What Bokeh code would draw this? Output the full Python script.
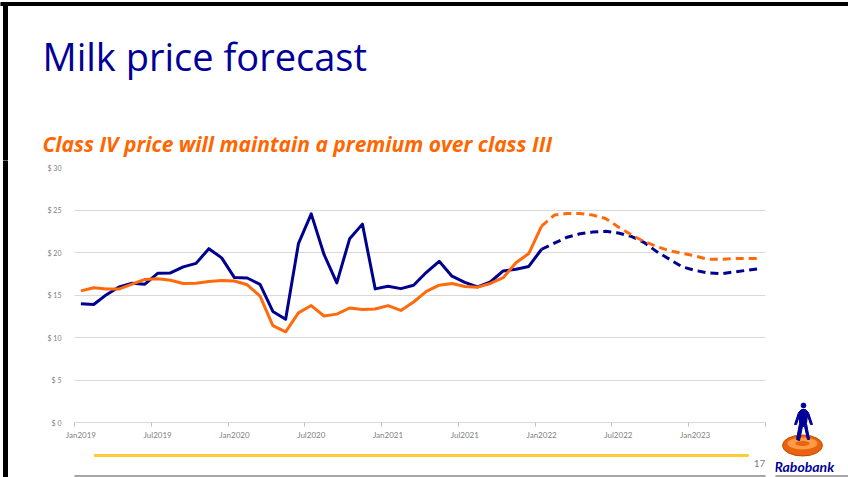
import numpy as np
from bokeh.plotting import figure
from bokeh.layouts import column, row
from bokeh.models import Range1d, FixedTicker
from bokeh.core.properties import value
from bokeh.embed import file_html
from bokeh.resources import INLINE

# ---------------- data ----------------
x_tick_labels = ["Jan2019", "Jul2019", "Jan2020", "Jul2020", "Jan2021",
                 "Jul2021", "Jan2022", "Jul2022", "Jan2023"]
y_tick_values = [0, 5, 10, 15, 20, 25, 30]

# monthly actuals Jan 2019 - Jan 2022 ($/cwt)
class_iii_actual = [13.96, 13.89, 15.04, 15.96, 16.38, 16.27, 17.55, 17.60, 18.31, 18.72, 20.45, 19.37,
                    17.05, 17.00, 16.25, 13.07, 12.14, 21.04, 24.54, 19.77, 16.43, 21.61, 23.34, 15.72,
                    16.04, 15.75, 16.15, 17.67, 18.96, 17.21, 16.49, 15.95, 16.53, 17.83, 18.03, 18.36,
                    20.38]
class_iv_actual = [15.48, 15.86, 15.71, 15.72, 16.29, 16.83, 16.90, 16.74, 16.35, 16.39, 16.60, 16.70,
                   16.65, 16.20, 14.87, 11.40, 10.67, 12.90, 13.76, 12.53, 12.75, 13.47, 13.30, 13.36,
                   13.75, 13.19, 14.18, 15.42, 16.16, 16.35, 16.00, 15.92, 16.36, 17.04, 18.79, 19.88,
                   23.09]
# forecasts Feb 2022 - Jun 2023
class_iii_forecast = [21.1, 21.8, 22.2, 22.4, 22.5, 22.3, 21.9, 21.2, 20.1, 19.2, 18.3, 17.9,
                      17.6, 17.5, 17.7, 17.9, 18.1]
class_iv_forecast = [24.4, 24.6, 24.6, 24.4, 24.0, 23.0, 22.1, 21.3, 20.7, 20.2, 19.9, 19.6,
                     19.2, 19.2, 19.3, 19.3, 19.3]

title_text = "Milk price forecast"
subtitle_text = "Class IV price will maintain a premium over class III"
page_number = "17"
brand_text = "Rabobank"

# ---------------- styles ----------------
BLUE = "#000090"
ORANGE = "#FF6A0D"
TITLE_BLUE = "#000099"
GRID = "#d9d9d9"
YELLOW = "#FFCC33"
BOTTOM_GRAY = "#a6a6a6"


def deco_fig(w, h):
    """A blank figure whose data coordinates equal its pixel coordinates (y down)."""
    f = figure(width=w, height=h, output_backend="svg", toolbar_location=None,
               x_range=Range1d(0, w), y_range=Range1d(h, 0),
               x_axis_type=None, y_axis_type=None, title=None,
               min_border=0, min_border_left=0, min_border_right=0,
               min_border_top=0, min_border_bottom=0)
    f.outline_line_color = None
    f.grid.visible = False
    f.background_fill_color = "white"
    f.border_fill_color = "white"
    return f


# ---------------- header (0..160) ----------------
header = deco_fig(848, 160)
header.quad(left=[0], right=[848], top=[2], bottom=[5], color="black")
header.quad(left=[3], right=[7], top=[2], bottom=[160], color="black")
header.text(x=[42], y=[55], text=[title_text], text_font=value("Open Sans"),
            text_font_size="38px", text_color=TITLE_BLUE, text_baseline="alphabetic")
header.text(x=[42], y=[143], text=[subtitle_text], text_font=value("Open Sans"),
            text_font_size="21px", text_font_style="bold italic",
            text_color="#FF6600", text_baseline="alphabetic")

# ---------------- left strip ----------------
strip = deco_fig(8, 317)
strip.quad(left=[3], right=[7], top=[0], bottom=[317], color="black")

# ---------------- chart (x 8..775, y 160..450) ----------------
n_act = len(class_iii_actual)
n_all = n_act + len(class_iii_forecast)
x_act = np.arange(n_act) + 0.5
x_fc = np.arange(n_act - 1, n_all) + 0.5

CW, CH = 767, 290
p = figure(width=CW, height=CH, output_backend="svg", toolbar_location=None, title=None,
           x_range=Range1d(0, n_all), y_range=Range1d(y_tick_values[0], y_tick_values[-1]),
           min_border_left=66, min_border_right=10, min_border_top=7, min_border_bottom=28)
p.outline_line_color = None
p.background_fill_color = "white"
p.border_fill_color = "white"

p.line(x_act, class_iii_actual, line_color=BLUE, line_width=3, line_join="round")
p.line(x_fc, [class_iii_actual[-1]] + class_iii_forecast, line_color=BLUE, line_width=3,
       line_dash="8 5", line_join="round")
p.line(x_act, class_iv_actual, line_color=ORANGE, line_width=3, line_join="round")
p.line(x_fc, [class_iv_actual[-1]] + class_iv_forecast, line_color=ORANGE, line_width=3,
       line_dash="8 5", line_join="round")

label_ticks = [6 * k + 0.5 for k in range(len(x_tick_labels))]
p.xaxis.ticker = FixedTicker(ticks=label_ticks, minor_ticks=list(range(0, n_all + 1, 6)))
p.xaxis.major_label_overrides = {t: s for t, s in zip(label_ticks, x_tick_labels)}
p.xaxis.axis_line_color = GRID
p.xaxis.major_tick_line_color = None
p.xaxis.major_tick_out = 0
p.xaxis.major_tick_in = 0
p.xaxis.minor_tick_line_color = "#bfbfbf"
p.xaxis.minor_tick_out = 4
p.xaxis.minor_tick_in = 0
p.xaxis.major_label_standoff = 3
p.xaxis.major_label_text_font = "Lato"
p.xaxis.major_label_text_font_size = "8px"
p.xaxis.major_label_text_color = "#808080"

p.yaxis.ticker = FixedTicker(ticks=y_tick_values)
p.yaxis.major_label_overrides = {v: f"$ {v}" for v in y_tick_values}
p.yaxis.axis_line_color = None
p.yaxis.major_tick_line_color = None
p.yaxis.minor_tick_line_color = None
p.yaxis.major_label_standoff = 7
p.yaxis.major_label_text_font = "Lato"
p.yaxis.major_label_text_font_size = "7px"
p.yaxis.major_label_text_color = "#808080"

p.xgrid.grid_line_color = None
p.ygrid.grid_line_color = GRID
p.ygrid.grid_line_width = 1

# ---------------- footer under chart (x 8..775, y 450..477) ----------------
footer = deco_fig(767, 27)
footer.quad(left=[22], right=[748], top=[4], bottom=[6], color=YELLOW)
footer.quad(left=[0], right=[767], top=[25], bottom=[27], color=BOTTOM_GRAY)
footer.text(x=[754], y=[13], text=[page_number], text_font=value("Lato"),
            text_font_size="10px", text_color="#7f7f7f", text_baseline="alphabetic")

# ---------------- logo column (x 775..848, y 160..477) ----------------
logo = deco_fig(73, 317)
logo.quad(left=[0], right=[73], top=[315], bottom=[317], color=BOTTOM_GRAY)
cx, cy = 27, 285
logo.ellipse(x=[cx], y=[cy], width=[40], height=[21], fill_color="#E8620F",
             line_color="#C04E00", line_width=1)
logo.ellipse(x=[cx], y=[cy - 2], width=[30], height=[12], fill_color="#FF9A45", line_color=None)
logo.ellipse(x=[cx], y=[cy - 2], width=[14], height=[5], fill_color="#E8620F", line_color=None)
hx, hy = 28, 245
logo.circle(x=[hx], y=[hy], radius=2.4, color=TITLE_BLUE)
man_dx = [-2, 2, 5, 9, 7, 4, 3, 6, 4, 1, -1, -4, -7, -4, -4, -7, -9, -5]
man_dy = [4, 4, 7, 19, 19, 10, 18, 34, 34, 21, 21, 35, 34, 18, 10, 19, 19, 7]
logo.patch([hx + v for v in man_dx], [hy + v for v in man_dy], color=TITLE_BLUE)
logo.text(x=[-1], y=[306], text=[brand_text], text_font=value("Lato"), text_font_size="14px",
          text_font_style="bold italic", text_color=TITLE_BLUE, text_baseline="alphabetic")

layout = column(header, row(strip, column(p, footer), logo))
open("out.html", "w").write(file_html(layout, INLINE))
